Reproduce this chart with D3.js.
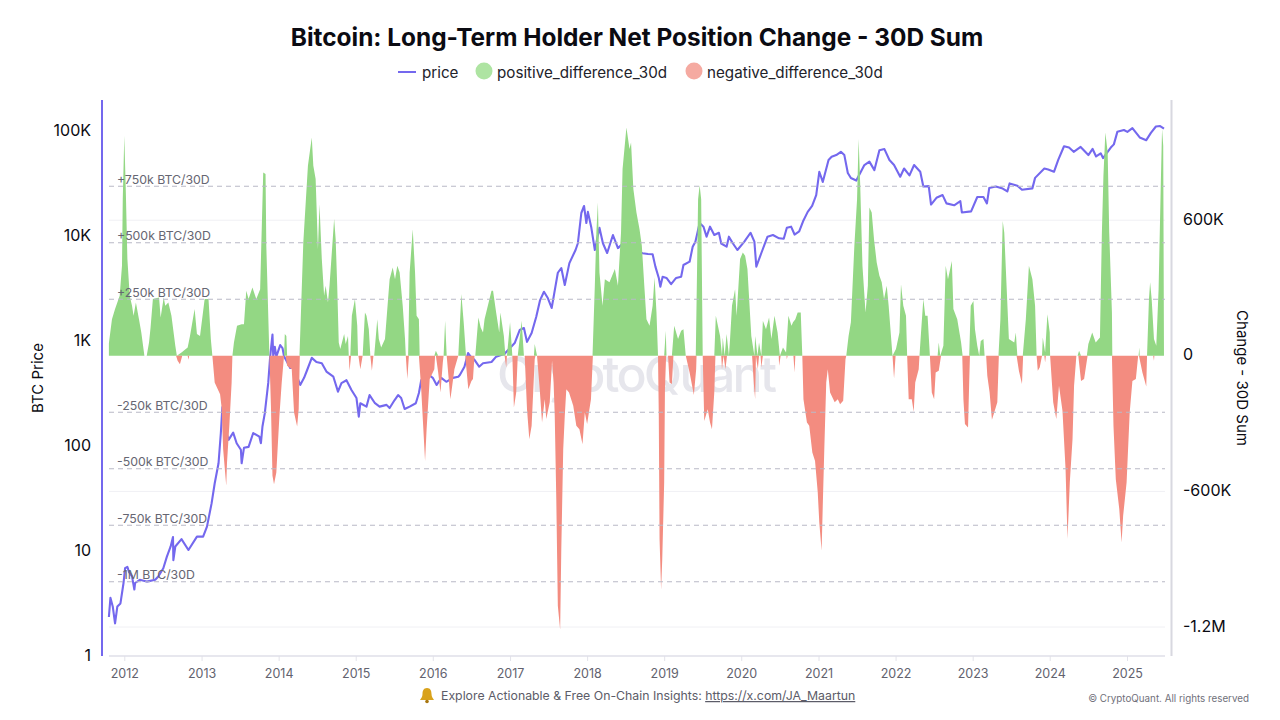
<!DOCTYPE html>
<html>
<head>
<meta charset="utf-8">
<script src="https://d3js.org/d3.v7.min.js"></script>
<style>
  body { margin: 0; background: #fff; }
  text { font-family: Inter, "Noto Sans", sans-serif; }
</style>
</head>
<body>
<script>
// values: [decimal year, value]
const yearTicks = [2012, 2013, 2014, 2015, 2016, 2017, 2018, 2019, 2020, 2021, 2022, 2023, 2024, 2025];
const priceTicks = [1, 10, 100, 1000, 10000, 100000];
const changeTicks = [600000, 0, -600000, -1200000];
const bandLevels = [750, 500, 250, -250, -500, -750, -1000];
const bandLabels = ["+750k BTC/30D", "+500k BTC/30D", "+250k BTC/30D", "-250k BTC/30D", "-500k BTC/30D", "-750k BTC/30D", "-1M BTC/30D"];

// BTC price in USD
const price = [
  [2011.80,2.3],[2011.82,3.5],[2011.85,2.9],[2011.88,2.0],[2011.91,2.9],[2011.95,3.1],[2011.99,4.85],[2012.01,6.7],
  [2012.04,6.9],[2012.06,6.2],[2012.10,5.6],[2012.13,4.2],[2012.14,4.85],[2012.20,5.2],[2012.29,5.0],[2012.40,5.2],
  [2012.44,5.6],[2012.505,6.7],[2012.55,8.6],[2012.60,10.8],[2012.63,13.3],[2012.635,8.0],[2012.66,10.8],[2012.74,12.7],
  [2012.83,10],[2012.94,13.4],[2013.02,13.4],[2013.07,16.7],[2013.13,27.8],[2013.17,43],[2013.22,67],[2013.25,130],
  [2013.27,230],[2013.30,150],[2013.35,112],[2013.41,131],[2013.455,104],[2013.51,90],[2013.52,67],[2013.55,94],
  [2013.61,96],[2013.67,130],[2013.75,120],[2013.77,104],[2013.79,150],[2013.82,200],[2013.865,390],[2013.89,694],
  [2013.92,1125],[2013.93,694],[2013.95,863],[2013.97,694],[2014.02,895],[2014.05,838],[2014.07,700],[2014.11,617],
  [2014.15,541],[2014.19,557],[2014.28,373],[2014.33,436],[2014.37,518],[2014.43,676],[2014.49,617],[2014.56,600],
  [2014.62,500],[2014.71,447],[2014.77,322],[2014.815,389],[2014.88,414],[2014.945,334],[2015.01,280],[2015.04,186],
  [2015.06,250],[2015.14,232],[2015.18,299],[2015.25,250],[2015.31,232],[2015.40,241],[2015.44,225],[2015.505,268],
  [2015.55,299],[2015.59,280],[2015.635,220],[2015.70,232],[2015.78,250],[2015.82,313],[2015.85,414],[2015.95,464],
  [2016.00,436],[2016.05,373],[2016.11,436],[2016.175,400],[2016.26,436],[2016.33,447],[2016.35,464],[2016.41,557],
  [2016.457,752],[2016.49,694],[2016.54,646],[2016.60,557],[2016.65,600],[2016.76,617],[2016.82,694],[2016.93,740],
  [2017.00,839],[2017.06,935],[2017.125,1245],[2017.18,1300],[2017.22,960],[2017.28,1167],[2017.34,1667],[2017.39,2400],
  [2017.44,2880],[2017.49,2510],[2017.54,2018],[2017.57,2690],[2017.62,4370],[2017.665,4850],[2017.71,3340],[2017.77,5400],
  [2017.85,7200],[2017.88,8350],[2017.925,16200],[2017.96,18900],[2017.99,13000],[2018.01,16600],[2018.055,11700],[2018.10,7200],
  [2018.16,11700],[2018.205,8350],[2018.26,6740],[2018.335,10000],[2018.40,7500],[2018.465,8300],[2018.55,8000],[2018.64,7000],
  [2018.72,6700],[2018.79,6600],[2018.85,6550],[2018.886,5000],[2018.93,3900],[2018.95,3220],[2018.98,4000],[2019.03,3900],
  [2019.09,3410],[2019.155,3900],[2019.22,4000],[2019.25,5180],[2019.33,5570],[2019.37,7740],[2019.405,8640],[2019.46,13000],
  [2019.51,12000],[2019.55,9640],[2019.595,12000],[2019.65,10000],[2019.71,10500],[2019.74,8300],[2019.81,7740],[2019.84,9640],
  [2019.89,8350],[2019.95,7200],[2020.04,8640],[2020.12,10500],[2020.17,8640],[2020.195,5000],[2020.26,6740],[2020.34,9640],
  [2020.41,10000],[2020.49,9300],[2020.55,9200],[2020.59,11700],[2020.645,12000],[2020.69,10100],[2020.75,10800],[2020.80,13500],
  [2020.86,16600],[2020.917,18900],[2020.97,24000],[2021.01,40000],[2021.055,32000],[2021.13,51800],[2021.17,55600],[2021.23,57700],
  [2021.29,62000],[2021.335,57700],[2021.38,39000],[2021.42,34900],[2021.49,33000],[2021.595,46400],[2021.66,50000],[2021.725,41500],
  [2021.79,64000],[2021.855,65800],[2021.92,51800],[2021.98,46400],[2022.06,35900],[2022.11,43000],[2022.18,37000],[2022.24,46400],
  [2022.32,40000],[2022.36,29000],[2022.43,29200],[2022.46,19500],[2022.53,22600],[2022.61,24000],[2022.66,20000],[2022.76,19200],
  [2022.84,21000],[2022.86,16400],[2022.98,16800],[2023.06,23000],[2023.14,23000],[2023.185,20000],[2023.215,28000],[2023.30,29000],
  [2023.39,27700],[2023.45,26000],[2023.48,31000],[2023.58,29500],[2023.64,27000],[2023.775,27800],[2023.81,35000],[2023.93,43000],
  [2023.98,42000],[2024.055,40000],[2024.11,52000],[2024.185,70000],[2024.25,68000],[2024.31,62000],[2024.40,69000],[2024.50,57700],
  [2024.555,66000],[2024.60,56000],[2024.66,60000],[2024.69,54000],[2024.79,68000],[2024.83,73000],[2024.875,96000],[2024.96,100000],
  [2025.005,96000],[2025.07,104000],[2025.165,85000],[2025.25,80000],[2025.31,94000],[2025.375,108000],[2025.43,109000],[2025.48,103000]
];

// positive 30d change, thousand BTC
const positive = [
  [2011.80,56],[2011.84,162],[2011.88,207],[2011.94,266],[2011.97,398],[2011.98,693],[2012.00,974],[2012.02,723],[2012.04,428],[2012.07,266],
  [2012.10,221],[2012.12,177],[2012.15,236],[2012.19,162],[2012.22,103],[2012.26,0],[2012.29,0],[2012.32,59],[2012.34,125],[2012.37,251],
  [2012.45,258],[2012.47,170],[2012.51,258],[2012.53,221],[2012.57,236],[2012.61,177],[2012.66,44],[2012.68,0],[2012.74,15],[2012.82,37],
  [2012.85,88],[2012.91,207],[2012.94,96],[2012.98,88],[2013.04,251],[2013.09,251],[2013.12,74],[2013.14,0],[2013.40,0],[2013.42,59],
  [2013.46,133],[2013.52,140],[2013.55,140],[2013.58,288],[2013.61,251],[2013.66,302],[2013.71,251],[2013.76,295],[2013.80,811],[2013.83,804],
  [2013.84,487],[2013.88,0],[2014.07,0],[2014.08,96],[2014.10,88],[2014.11,0],[2014.27,0],[2014.28,96],[2014.32,501],[2014.38,841],
  [2014.43,966],[2014.45,841],[2014.48,782],[2014.51,472],[2014.53,671],[2014.56,428],[2014.59,266],[2014.61,310],[2014.64,236],[2014.66,310],
  [2014.72,605],[2014.74,516],[2014.76,310],[2014.78,59],[2014.80,30],[2014.85,96],[2014.87,52],[2014.90,88],[2014.91,0],[2014.93,0],
  [2014.95,177],[2014.99,251],[2015.02,133],[2015.03,0],[2015.09,0],[2015.12,192],[2015.14,177],[2015.17,118],[2015.19,0],[2015.24,0],
  [2015.28,162],[2015.30,74],[2015.33,37],[2015.38,74],[2015.42,251],[2015.44,339],[2015.48,391],[2015.51,339],[2015.54,398],[2015.57,369],
  [2015.61,221],[2015.64,74],[2015.65,0],[2015.68,0],[2015.70,369],[2015.74,560],[2015.77,369],[2015.79,177],[2015.82,162],[2015.83,0],
  [2016.02,0],[2016.04,22],[2016.07,0],[2016.14,0],[2016.16,155],[2016.18,0],[2016.33,0],[2016.37,273],[2016.40,148],[2016.43,0],
  [2016.55,0],[2016.59,170],[2016.62,125],[2016.65,103],[2016.67,162],[2016.76,288],[2016.78,288],[2016.82,192],[2016.86,103],[2016.875,192],
  [2016.92,88],[2016.94,0],[2016.96,0],[2017.00,148],[2017.03,0],[2017.10,0],[2017.15,155],[2017.18,0],[2017.31,0],[2017.32,52],
  [2017.35,0],[2018.07,0],[2018.10,310],[2018.12,546],[2018.14,678],[2018.16,369],[2018.20,221],[2018.23,339],[2018.29,325],[2018.36,384],
  [2018.40,310],[2018.44,546],[2018.46,826],[2018.51,1010],[2018.55,915],[2018.57,944],[2018.60,738],[2018.64,634],[2018.68,560],[2018.71,487],
  [2018.745,295],[2018.77,162],[2018.81,133],[2018.85,221],[2018.875,347],[2018.90,192],[2018.92,0],[2019.00,0],[2019.02,111],[2019.03,0],
  [2019.10,0],[2019.13,133],[2019.18,74],[2019.22,111],[2019.25,118],[2019.28,0],[2019.41,0],[2019.44,693],[2019.46,755],[2019.48,693],
  [2019.50,0],[2019.65,0],[2019.67,177],[2019.725,88],[2019.75,0],[2019.76,81],[2019.785,0],[2019.81,96],[2019.84,0],[2019.855,74],
  [2019.88,221],[2019.92,295],[2019.94,177],[2019.985,428],[2020.02,457],[2020.05,443],[2020.08,384],[2020.13,88],[2020.17,0],[2020.18,88],
  [2020.21,0],[2020.23,59],[2020.26,0],[2020.28,155],[2020.32,118],[2020.36,170],[2020.39,74],[2020.43,177],[2020.47,103],[2020.50,0],
  [2020.54,37],[2020.58,15],[2020.61,177],[2020.65,133],[2020.67,148],[2020.70,162],[2020.73,192],[2020.77,192],[2020.79,0],[2021.36,0],
  [2021.39,88],[2021.42,148],[2021.465,487],[2021.50,693],[2021.52,959],[2021.54,767],[2021.57,398],[2021.61,192],[2021.64,310],[2021.66,656],
  [2021.69,634],[2021.72,516],[2021.755,413],[2021.79,354],[2021.82,325],[2021.85,251],[2021.885,310],[2021.91,221],[2021.94,88],[2021.96,0],
  [2022.005,30],[2022.05,103],[2022.07,317],[2022.10,221],[2022.135,177],[2022.15,0],[2022.31,0],[2022.33,103],[2022.36,251],[2022.385,177],
  [2022.415,177],[2022.445,0],[2022.545,0],[2022.56,59],[2022.58,0],[2022.62,44],[2022.65,398],[2022.68,339],[2022.73,420],[2022.75,207],
  [2022.80,162],[2022.85,59],[2022.87,0],[2022.955,0],[2022.975,221],[2023.01,243],[2023.03,118],[2023.06,44],[2023.085,0],[2023.105,66],
  [2023.14,74],[2023.155,0],[2023.335,0],[2023.36,162],[2023.39,597],[2023.41,546],[2023.44,310],[2023.47,74],[2023.54,59],[2023.56,103],
  [2023.58,0],[2023.65,0],[2023.69,162],[2023.73,398],[2023.775,339],[2023.81,221],[2023.83,0],[2023.90,0],[2023.91,81],[2023.94,15],
  [2023.97,184],[2024.00,103],[2024.005,0],[2024.36,0],[2024.38,22],[2024.405,0],[2024.48,0],[2024.50,52],[2024.55,103],[2024.595,59],
  [2024.65,81],[2024.675,546],[2024.695,797],[2024.72,988],[2024.75,900],[2024.77,546],[2024.805,192],[2024.81,0],[2025.15,0],[2025.16,37],
  [2025.165,0],[2025.26,0],[2025.285,251],[2025.30,325],[2025.32,251],[2025.35,74],[2025.38,44],[2025.41,295],[2025.44,782],[2025.455,1003],
  [2025.47,929],[2025.48,0]
];

// negative 30d change, thousand BTC
const negative = [
  [2012.67,0],[2012.69,-22],[2012.72,-37],[2012.75,0],[2012.82,0],[2012.83,-18],[2012.84,0],[2013.14,0],[2013.17,-118],[2013.24,-170],
  [2013.26,-229],[2013.28,-413],[2013.32,-575],[2013.33,-472],[2013.36,-310],[2013.39,-118],[2013.40,0],[2013.88,0],[2013.90,-221],[2013.92,-531],
  [2013.94,-568],[2013.97,-516],[2014.01,-266],[2014.04,-118],[2014.07,0],[2014.09,0],[2014.11,-44],[2014.17,-59],[2014.20,-251],[2014.24,-313],
  [2014.26,-236],[2014.275,0],[2014.91,0],[2014.92,-66],[2014.94,0],[2015.035,0],[2015.06,-59],[2015.09,0],[2015.19,0],[2015.21,-66],
  [2015.23,0],[2015.65,0],[2015.67,-103],[2015.69,0],[2015.82,0],[2015.85,-148],[2015.88,-339],[2015.90,-465],[2015.92,-325],[2015.96,-103],
  [2016.02,-59],[2016.03,0],[2016.04,0],[2016.07,-74],[2016.10,-162],[2016.13,-30],[2016.14,0],[2016.18,0],[2016.21,-118],[2016.227,-192],
  [2016.24,-162],[2016.28,-59],[2016.33,0],[2016.42,0],[2016.46,-148],[2016.50,-111],[2016.52,-103],[2016.54,0],[2016.93,0],[2016.95,-52],
  [2016.96,0],[2017.03,0],[2017.05,-229],[2017.08,-162],[2017.10,0],[2017.19,0],[2017.22,-236],[2017.25,-369],[2017.28,-310],[2017.32,-15],
  [2017.33,0],[2017.35,0],[2017.385,-148],[2017.415,-295],[2017.45,-192],[2017.47,-280],[2017.515,-206],[2017.545,-22],[2017.565,-118],[2017.58,-266],
  [2017.60,-634],[2017.62,-1106],[2017.65,-1212],[2017.665,-855],[2017.69,-413],[2017.71,-266],[2017.73,-148],[2017.765,-162],[2017.82,-221],[2017.86,-310],
  [2017.90,-325],[2017.94,-391],[2017.97,-251],[2018.00,-302],[2018.05,-192],[2018.075,0],[2018.92,0],[2018.93,-266],[2018.94,-811],[2018.96,-1035],
  [2018.975,-900],[2019.00,-560],[2019.01,-148],[2019.025,0],[2019.05,0],[2019.07,-118],[2019.10,-125],[2019.12,0],[2019.28,0],[2019.33,-74],
  [2019.385,-174],[2019.415,-59],[2019.42,0],[2019.50,0],[2019.52,-288],[2019.565,-236],[2019.595,-295],[2019.62,-325],[2019.65,-162],[2019.665,0],
  [2019.74,0],[2019.75,-59],[2019.77,0],[2019.795,-59],[2019.815,0],[2020.14,0],[2020.165,-133],[2020.18,-192],[2020.19,0],[2020.215,-59],
  [2020.23,0],[2020.25,0],[2020.26,-52],[2020.28,0],[2020.485,0],[2020.49,-44],[2020.51,0],[2020.585,0],[2020.59,-15],[2020.60,0],
  [2020.675,0],[2020.69,-74],[2020.70,0],[2020.79,0],[2020.805,-192],[2020.85,-295],[2020.88,-310],[2020.92,-428],[2020.955,-465],[2020.99,-605],
  [2021.01,-738],[2021.04,-863],[2021.055,-664],[2021.075,-413],[2021.10,-118],[2021.12,-59],[2021.15,-162],[2021.21,-206],[2021.25,-192],[2021.28,-214],
  [2021.32,-199],[2021.35,-15],[2021.36,0],[2021.96,0],[2021.98,-100],[2022.00,0],[2022.15,0],[2022.17,-192],[2022.21,-192],[2022.235,-248],
  [2022.255,-118],[2022.30,-59],[2022.31,0],[2022.445,0],[2022.47,-162],[2022.50,-192],[2022.52,-74],[2022.56,-66],[2022.59,0],[2022.865,0],
  [2022.88,-192],[2022.90,-302],[2022.94,-317],[2022.955,-118],[2022.965,0],[2023.175,0],[2023.19,-88],[2023.22,-162],[2023.25,-283],[2023.28,-251],
  [2023.32,-206],[2023.34,0],[2023.57,0],[2023.60,-66],[2023.64,-125],[2023.655,0],[2023.83,0],[2023.845,-66],[2023.87,-52],[2023.90,0],
  [2023.93,0],[2023.94,-30],[2023.95,0],[2024.005,0],[2024.045,-206],[2024.085,-280],[2024.12,-133],[2024.165,-243],[2024.205,-501],[2024.23,-811],
  [2024.26,-560],[2024.295,-369],[2024.315,-133],[2024.345,0],[2024.37,0],[2024.405,-111],[2024.445,-103],[2024.49,0],[2024.805,0],[2024.825,-310],
  [2024.855,-546],[2024.90,-678],[2024.93,-826],[2024.95,-708],[2024.995,-560],[2025.035,-251],[2025.07,-111],[2025.115,-103],[2025.145,0],[2025.155,0],
  [2025.20,-74],[2025.25,-136],[2025.26,0],[2025.34,0],[2025.35,-22],[2025.355,0]
];

const W = 1280, H = 720;
const plotLeft = 109, plotRight = 1165, plotTop = 100, plotBottom = 656;
const green = "#93d784", red = "#f38c80", purple = "#7468ee";

function toDate(y) {
  const yr = Math.floor(y);
  const a = new Date(yr, 0, 1), b = new Date(yr + 1, 0, 1);
  return new Date(+a + (y - yr) * (b - a));
}

const x = d3.scaleTime().domain([toDate(2012), toDate(2025)]).range([124.3, 1127]);
const yPrice = d3.scaleLog().domain([1, 100000]).range([655, 130]);
const yChange = d3.scaleLinear().domain([-1200000, 600000]).range([627, 220.2]);

const svg = d3.select("body").append("svg").attr("width", W).attr("height", H);

// title + legend
svg.append("text").attr("x", 637).attr("y", 45.5).attr("text-anchor", "middle")
  .attr("font-size", 24.4).attr("font-weight", 700).attr("fill", "#0b0b12")
  .text("Bitcoin: Long-Term Holder Net Position Change - 30D Sum");

svg.append("line").attr("x1", 398).attr("x2", 416).attr("y1", 72).attr("y2", 72)
  .attr("stroke", purple).attr("stroke-width", 2);
svg.append("text").attr("class", "leg").attr("x", 422).attr("y", 77.5).text("price");
svg.append("circle").attr("cx", 484).attr("cy", 71).attr("r", 8.5).attr("fill", "#aee4a2");
svg.append("text").attr("class", "leg").attr("x", 497).attr("y", 77.5).text("positive_difference_30d");
svg.append("circle").attr("cx", 694).attr("cy", 71).attr("r", 8.5).attr("fill", "#f5aaa1");
svg.append("text").attr("class", "leg").attr("x", 707).attr("y", 77.5).text("negative_difference_30d");
svg.selectAll(".leg").attr("font-size", 15.2).attr("fill", "#22222a");

// watermark
svg.append("text").attr("x", 637).attr("y", 392).attr("text-anchor", "middle")
  .attr("font-size", 50).attr("font-weight", 500).attr("fill", "#e6e6ec")
  .attr("textLength", 280).text("CryptoQuant");

// light grid from the right axis ticks
svg.append("g").selectAll("line").data(changeTicks.filter(d => d !== 0)).join("line")
  .attr("x1", plotLeft).attr("x2", plotRight)
  .attr("y1", d => yChange(d)).attr("y2", d => yChange(d))
  .attr("stroke", "#f0f0f4");

// price line sits under the bars
const priceLine = d3.line().x(d => x(toDate(d[0]))).y(d => yPrice(d[1]));
svg.append("path").datum(price).attr("d", priceLine)
  .attr("fill", "none").attr("stroke", purple).attr("stroke-width", 2.1).attr("stroke-linejoin", "round");

const changeArea = d3.area()
  .x(d => x(toDate(d[0])))
  .y0(yChange(0))
  .y1(d => yChange(d[1] * 1000));
svg.append("path").datum(positive).attr("d", changeArea).attr("fill", green);
svg.append("path").datum(negative).attr("d", changeArea).attr("fill", red);

// dashed level annotations
const bands = svg.append("g");
bands.selectAll("line").data(bandLevels).join("line")
  .attr("x1", plotLeft).attr("x2", plotRight)
  .attr("y1", d => yChange(d * 1000)).attr("y2", d => yChange(d * 1000))
  .attr("stroke", "#b9b9c6").attr("stroke-width", 1.1).attr("stroke-dasharray", "5,4");
bands.selectAll("text").data(bandLabels).join("text")
  .attr("x", 117).attr("y", (d, i) => yChange(bandLevels[i] * 1000) - 2.5)
  .attr("font-size", 12.3).attr("fill", "#666672").text(d => d);

// x axis
const xAxis = svg.append("g").attr("transform", `translate(0,${plotBottom})`)
  .call(d3.axisBottom(x).tickValues(yearTicks.map(toDate)).tickFormat(d3.timeFormat("%Y")).tickSize(5).tickPadding(8));
xAxis.select(".domain").remove();
xAxis.selectAll("line").attr("stroke", "#e3e3ea");
xAxis.selectAll("text").attr("font-size", 12.5).attr("fill", "#62626e").attr("font-family", "Inter");
svg.append("line").attr("x1", plotLeft).attr("x2", plotRight).attr("y1", plotBottom).attr("y2", plotBottom)
  .attr("stroke", "#dfdfe8").attr("stroke-width", 1.5);

// left axis
const fmtPrice = d => d >= 1000 ? (d / 1000) + "K" : d;
const leftAxis = svg.append("g").attr("transform", "translate(91,0)")
  .call(d3.axisLeft(yPrice).tickValues(priceTicks).tickFormat(fmtPrice).tickSize(0).tickPadding(0));
leftAxis.select(".domain").remove();
leftAxis.selectAll("text").attr("font-size", 16).attr("fill", "#0b0b12").attr("font-family", "Inter");
svg.append("line").attr("x1", 102).attr("x2", 102).attr("y1", plotTop).attr("y2", plotBottom)
  .attr("stroke", purple).attr("stroke-width", 2);
svg.append("text").attr("transform", "translate(43,378) rotate(-90)").attr("text-anchor", "middle")
  .attr("font-size", 15).attr("fill", "#0b0b12").text("BTC Price");

// right axis
const fmtChange = d => d === 0 ? "0" : Math.abs(d) >= 1000000 ? (d / 1000000) + "M" : (d / 1000) + "K";
const rightAxis = svg.append("g").attr("transform", "translate(1183,-1)")
  .call(d3.axisRight(yChange).tickValues(changeTicks).tickFormat(fmtChange).tickSize(0).tickPadding(0));
rightAxis.select(".domain").remove();
rightAxis.selectAll("text").attr("font-size", 16).attr("fill", "#0b0b12").attr("font-family", "Inter");
svg.append("line").attr("x1", 1171.5).attr("x2", 1171.5).attr("y1", plotTop).attr("y2", plotBottom)
  .attr("stroke", "#d8d8e0").attr("stroke-width", 2);
svg.append("text").attr("transform", "translate(1237,378) rotate(90)").attr("text-anchor", "middle")
  .attr("font-size", 15).attr("fill", "#0b0b12").text("Change - 30D Sum");

// footer
svg.append("path").attr("transform", "translate(427,695)")
  .attr("d", "M0,-7 C-3.5,-7 -4.5,-4 -4.5,-1 C-4.5,2 -6,3.5 -7,5 L7,5 C6,3.5 4.5,2 4.5,-1 C4.5,-4 3.5,-7 0,-7 Z")
  .attr("fill", "#d9a21b");
svg.append("circle").attr("cx", 427).attr("cy", 701.5).attr("r", 1.8).attr("fill", "#a8760f");
const foot = svg.append("text").attr("x", 441).attr("y", 700).attr("font-size", 12.3).attr("fill", "#5c5c68");
foot.append("tspan").text("Explore Actionable & Free On-Chain Insights: ");
foot.append("tspan").attr("text-decoration", "underline").text("https://x.com/JA_Maartun");
svg.append("text").attr("x", 1249).attr("y", 702).attr("text-anchor", "end")
  .attr("font-size", 9.8).attr("fill", "#70707a").text("© CryptoQuant. All rights reserved");
</script>
</body>
</html>
